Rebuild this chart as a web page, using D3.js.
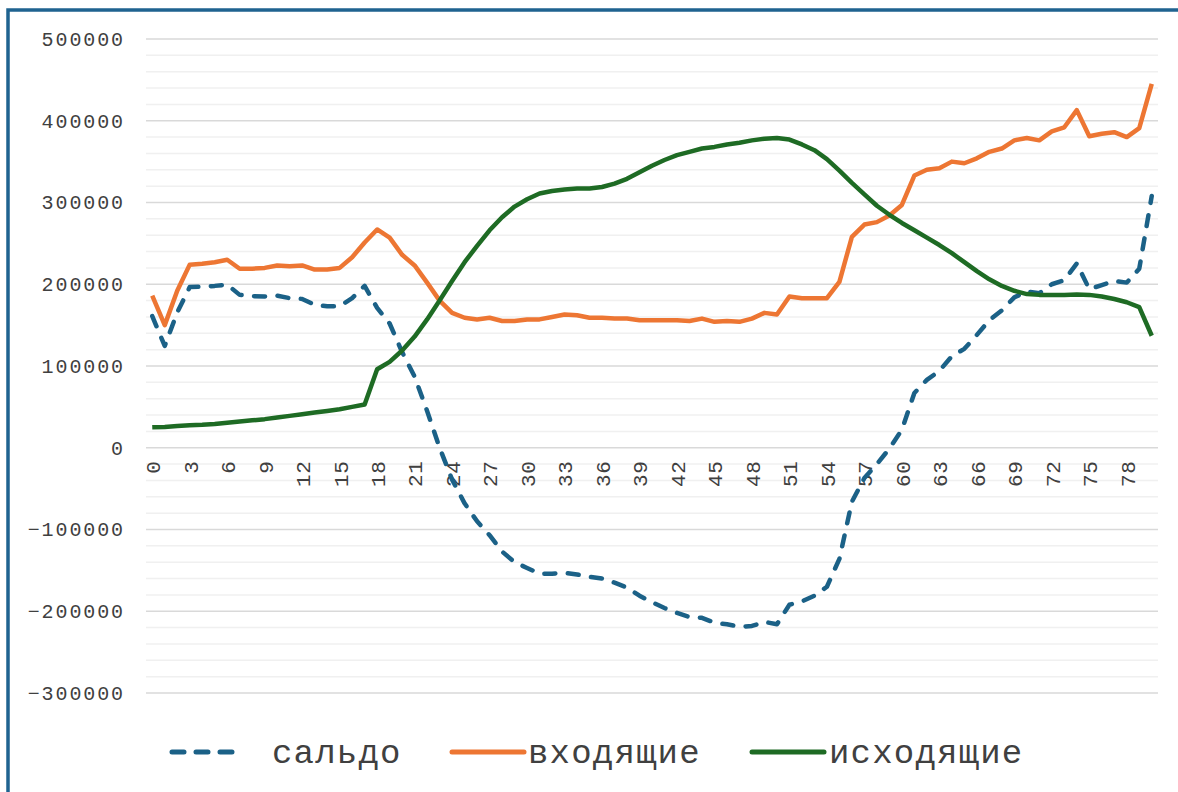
<!DOCTYPE html>
<html>
<head>
<meta charset="utf-8">
<script src="https://cdn.jsdelivr.net/npm/d3@7"></script>
<style>
  body { margin: 0; background: #fff; overflow: hidden; }
  svg { display: block; overflow: hidden; }
  text { font-family: "Liberation Mono", monospace; fill: #404040; }
</style>
</head>
<body>
<div id="chart"></div>
<script>
// series values (index 0..80)
const incoming = [186000, 150000, 192000, 224000, 225000, 227000, 230000, 219000, 219000, 220000,
  223000, 222000, 223000, 218000, 218000, 220000, 233000, 251000, 267000, 257000,
  236000, 223000, 202000, 180000, 165000, 159000, 157000, 159000, 155000, 155000,
  157000, 157000, 160000, 163000, 162000, 159000, 159000, 158000, 158000, 156000,
  156000, 156000, 156000, 155000, 158000, 154000, 155000, 154000, 158000, 165000,
  163000, 185000, 183000, 183000, 183000, 203000, 258000, 273000, 276000, 284000,
  297000, 333000, 340000, 342000, 350000, 348000, 354000, 362000, 366000, 376000,
  379000, 376000, 387000, 392000, 413000, 381000, 384000, 386000, 380000, 391000, 445000];

const outgoing = [25000, 25500, 26500, 27500, 28000, 29000, 30500, 32000, 33500, 35000,
  37000, 39000, 41000, 43000, 45000, 47000, 50000, 53000, 96000, 105000,
  119000, 136000, 157000, 180000, 204000, 227000, 247000, 266000, 282000, 295000,
  304000, 311000, 314000, 316000, 317000, 317000, 319000, 323000, 329000, 337000,
  345000, 352000, 358000, 362000, 366000, 368000, 371000, 373000, 376000, 378000,
  379000, 377000, 371000, 364000, 353000, 339000, 324000, 310000, 296000, 285000,
  275000, 266000, 257000, 248000, 238000, 227000, 216000, 206000, 198000, 192000,
  188000, 187000, 187000, 187000, 187500, 187000, 185000, 182000, 178000, 172000, 137000];

const balance = [161000, 124500, 165500, 196500, 197000, 198000, 199500, 187000, 185500, 185000,
  186000, 183000, 182000, 175000, 173000, 173000, 183000, 198000, 171000, 152000,
  117000, 87000, 45000, 0, -39000, -68000, -90000, -107000, -127000, -140000,
  -147000, -154000, -154000, -153000, -155000, -158000, -160000, -165000, -171000, -181000,
  -189000, -196000, -202000, -207000, -208000, -214000, -216000, -219000, -218000, -213000,
  -216000, -192000, -188000, -181000, -170000, -136000, -66000, -37000, -20000, -1000,
  22000, 67000, 83000, 94000, 112000, 121000, 138000, 156000, 168000, 184000,
  191000, 189000, 200000, 205000, 225500, 194000, 199000, 204000, 202000, 219000, 308000];

const categories = d3.range(0, 81);
const xTicks = d3.range(0, 79, 3);
const yTicks = [-300000, -200000, -100000, 0, 100000, 200000, 300000, 400000, 500000];

const seriesNames = ["сальдо", "входящие", "исходящие"];
const seriesColors = ["#1b6187", "#ed7633", "#1e6b24"];

const width = 1178, height = 792;

let svg = d3.select("#chart").append("svg")
  .attr("width", width)
  .attr("height", height);

// outer frame (only left and top are visible in the picture)
svg.append("rect")
  .attr("x", 8).attr("y", 10)
  .attr("width", 1300).attr("height", 1000)
  .attr("fill", "none")
  .attr("stroke", "#1f6390")
  .attr("stroke-width", 3.5);

let x = d3.scalePoint().domain(categories).range([146, 1158]).padding(0.5);
let y = d3.scaleLinear().domain([-300000, 500000]).range([693, 39]);

// minor gridlines every 20000
svg.append("g").selectAll("line").data(d3.range(-300000, 500001, 20000).filter(v => v % 100000 != 0))
  .enter().append("line")
  .attr("x1", 146).attr("x2", 1158)
  .attr("y1", d => y(d)).attr("y2", d => y(d))
  .attr("stroke", "#f0f0f0").attr("stroke-width", 1.5);

// major gridlines
svg.append("g").selectAll("line").data(yTicks)
  .enter().append("line")
  .attr("x1", 146).attr("x2", 1158)
  .attr("y1", d => y(d)).attr("y2", d => y(d))
  .attr("stroke", "#d9d9d9").attr("stroke-width", 1.5);

// y axis labels
let yAxis = svg.append("g")
  .attr("transform", "translate(125,0)")
  .call(d3.axisLeft(y).tickValues(yTicks).tickSize(0).tickPadding(0)
    .tickFormat(d => (d < 0 ? "\u2212" : "") + Math.abs(d)));
yAxis.select(".domain").remove();
yAxis.selectAll("text")
  .attr("font-size", "20px")
  .attr("letter-spacing", "1.9px")
  .attr("font-family", "Liberation Mono, monospace")
  .attr("fill", "#404040");

// x axis labels, rotated
let xAxis = svg.append("g")
  .attr("transform", "translate(0," + y(0) + ")")
  .call(d3.axisBottom(x).tickValues(xTicks).tickSize(0));
xAxis.select(".domain").remove();
xAxis.selectAll("text")
  .attr("font-size", "21px")
  .attr("letter-spacing", "0.5px")
  .attr("font-family", "Liberation Mono, monospace")
  .attr("fill", "#404040")
  .attr("text-anchor", "end")
  .attr("transform", "rotate(-90)")
  .attr("x", -13)
  .attr("y", 0)
  .attr("dy", "0.35em");

// lines
let line = d3.line()
  .x((d, i) => x(i))
  .y(d => y(d));

let allSeries = [balance, incoming, outgoing];

svg.append("g").selectAll("path").data(allSeries)
  .enter().append("path")
  .attr("d", d => line(d))
  .attr("fill", "none")
  .attr("stroke", (d, i) => seriesColors[i])
  .attr("stroke-width", 4.5)
  .attr("stroke-linejoin", "round")
  .attr("stroke-linecap", (d, i) => i == 0 ? "round" : "butt")
  .attr("stroke-dasharray", (d, i) => i == 0 ? "11,12.5" : null);

// legend
let legendX = [172, 452, 752];
let legendText = [272, 528, 829];
let legend = svg.append("g").selectAll("g").data(seriesNames)
  .enter().append("g");

legend.append("line")
  .attr("x1", (d, i) => legendX[i])
  .attr("x2", (d, i) => i == 0 ? 236 : legendX[i] + 72)
  .attr("y1", 752).attr("y2", 752)
  .attr("stroke", (d, i) => seriesColors[i])
  .attr("stroke-width", 5)
  .attr("stroke-linecap", "round")
  .attr("stroke-dasharray", (d, i) => i == 0 ? "12,12" : null);

legend.append("text")
  .attr("x", (d, i) => legendText[i])
  .attr("y", 763)
  .attr("font-size", "34px")
  .attr("letter-spacing", "1.2px")
  .attr("fill", "#262626")
  .text(d => d);
</script>
</body>
</html>
